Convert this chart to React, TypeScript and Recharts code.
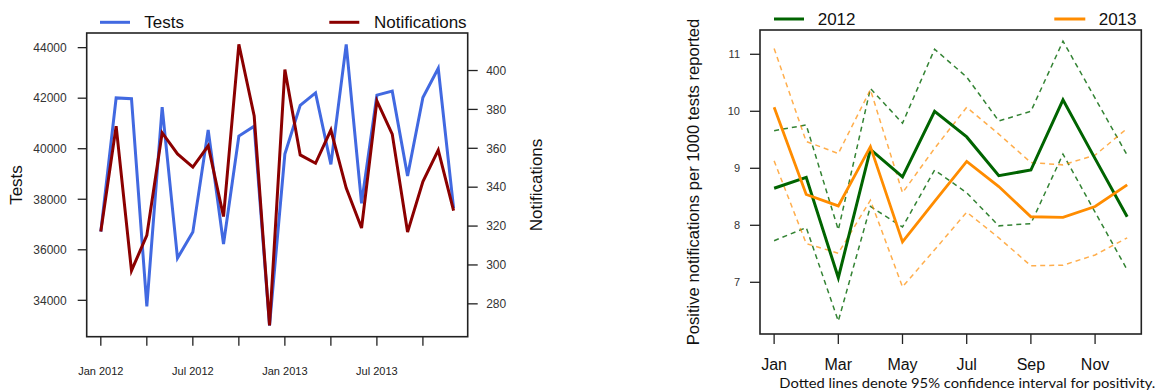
import React from 'react';
import { LineChart, Line, XAxis, YAxis } from 'recharts';

// ---------- Left chart data (monthly, Jan 2012 .. Dec 2013) ----------
const monthIndex = [0, 1, 2, 3, 4, 5, 6, 7, 8, 9, 10, 11, 12, 13, 14, 15, 16, 17, 18, 19, 20, 21, 22, 23];
const tests = [36720, 42010, 41980, 33760, 41650, 35670, 36700, 40740, 36230, 40500, 40890, 33000,
  39790, 41720, 42210, 39380, 44130, 37840, 42120, 42280, 38920, 42030, 43180, 37650];
const notifications = [317.2, 371.4, 297.1, 315.2, 368.0, 357.1, 350.3, 361.3, 324.9, 413.5, 376.6, 268.9,
  400.5, 356.6, 352.3, 369.4, 339.5, 319.0, 384.4, 367.3, 316.9, 342.9, 359.1, 328.0];
const leftTicks = [0, 3, 6, 9, 12, 15, 18, 21];
const leftTickLabels = ['Jan 2012', '', 'Jul 2012', '', 'Jan 2013', '', 'Jul 2013', ''];
const testsTicks = [34000, 36000, 38000, 40000, 42000, 44000];
const notifTicks = [280, 300, 320, 340, 360, 380, 400];

// ---------- Right chart data (monthly positivity) ----------
const monthNames = ['Jan', 'Feb', 'Mar', 'Apr', 'May', 'Jun', 'Jul', 'Aug', 'Sep', 'Oct', 'Nov', 'Dec'];
const pos2012 = [8.65, 8.84, 7.08, 9.33, 8.85, 10.0, 9.55, 8.87, 8.97, 10.2, 9.17, 8.15];
const pos2012Upper = [9.66, 9.76, 7.92, 10.4, 9.79, 11.09, 10.6, 9.83, 10.0, 11.23, 10.23, 9.23];
const pos2012Lower = [7.73, 7.96, 6.32, 8.33, 7.97, 8.97, 8.57, 7.99, 8.03, 9.25, 8.23, 7.22];
const pos2013 = [10.07, 8.54, 8.34, 9.38, 7.71, 8.42, 9.12, 8.68, 8.15, 8.14, 8.33, 8.71];
const pos2013Upper = [11.1, 9.47, 9.26, 10.38, 8.57, 9.35, 10.07, 9.6, 9.1, 9.06, 9.23, 9.7];
const pos2013Lower = [9.13, 7.68, 7.51, 8.44, 6.92, 7.57, 8.23, 7.78, 7.29, 7.3, 7.48, 7.78];
const rightTicks = [0, 2, 4, 6, 8, 10];
const posTicks = [7, 8, 9, 10, 11];

const FONT = '"Liberation Sans", Arial, Helvetica, sans-serif';
const AXIS = '#222';
const BLUE = '#4169E1';
const RED = '#8B0000';
const GREEN = '#006400';
const ORANGE = '#FF8C00';

const leftData = monthIndex.map((m, i) => ({ m, tests: tests[i], notif: notifications[i] }));
const rightData = monthNames.map((_, i) => ({
  m: i,
  g: pos2012[i], gU: pos2012Upper[i], gL: pos2012Lower[i],
  o: pos2013[i], oU: pos2013Upper[i], oL: pos2013Lower[i],
}));

export default function App() {
  return (
    <div style={{ position: 'absolute', left: 0, top: 0, width: 1157, height: 391, background: '#fff', fontFamily: FONT }}>
      <div style={{ position: 'absolute', left: 0, top: 0 }}>
        <LineChart width={580} height={391} data={leftData} margin={{ top: 33, right: 0, bottom: 0, left: 0 }}>
          <XAxis
            dataKey="m" type="number" domain={[-0.92, 23.92]} ticks={leftTicks} interval={0}
            allowDataOverflow height={54.3} axisLine={false}
            tickSize={9} tickMargin={21}
            tickLine={{ stroke: AXIS, strokeWidth: 1.3 }}
            tick={{ fontSize: 11, fill: '#222', fontFamily: FONT }}
            tickFormatter={(v: number) => leftTickLabels[leftTicks.indexOf(v)] ?? ''}
          />
          <YAxis
            yAxisId="left" orientation="left" width={86.7} domain={[32560, 44580]} ticks={testsTicks}
            interval={0} allowDataOverflow axisLine={false} tickSize={9} tickMargin={11}
            tickLine={{ stroke: AXIS, strokeWidth: 1.3 }}
            tick={{ fontSize: 12, fill: '#333', fontFamily: FONT }}
          />
          <YAxis
            yAxisId="right" orientation="right" width={112.3} domain={[263.1, 419.3]} ticks={notifTicks}
            interval={0} allowDataOverflow axisLine={false} tickSize={10} tickMargin={8.5}
            tickLine={{ stroke: AXIS, strokeWidth: 1.3 }}
            tick={{ fontSize: 12, fill: '#333', fontFamily: FONT }}
          />
          <Line yAxisId="left" dataKey="tests" type="linear" stroke={BLUE} strokeWidth={3} dot={false} isAnimationActive={false} />
          <Line yAxisId="right" dataKey="notif" type="linear" stroke={RED} strokeWidth={3} dot={false} isAnimationActive={false} />
        </LineChart>
      </div>
      <div style={{ position: 'absolute', left: 580, top: 0 }}>
        <LineChart width={577} height={391} data={rightData} margin={{ top: 30, right: 15.7, bottom: 0, left: 0 }}>
          <XAxis
            dataKey="m" type="number" domain={[-0.44, 11.44]} ticks={rightTicks} interval={0}
            allowDataOverflow height={57} axisLine={false} tickSize={10} tickMargin={15}
            tickLine={{ stroke: AXIS, strokeWidth: 1.3 }}
            tick={{ fontSize: 16, fill: '#111', fontFamily: FONT }}
            tickFormatter={(v: number) => monthNames[v]}
          />
          <YAxis
            width={180} domain={[6.093, 11.426]} ticks={posTicks} interval={0} allowDataOverflow
            axisLine={false} tickSize={10} tickMargin={10}
            tickLine={{ stroke: AXIS, strokeWidth: 1.3 }}
            tick={{ fontSize: 11, fill: '#333', fontFamily: FONT }}
          />
          <Line dataKey="gU" type="linear" stroke={GREEN} strokeOpacity={0.8} strokeWidth={1.5} strokeDasharray="5 4" dot={false} isAnimationActive={false} />
          <Line dataKey="gL" type="linear" stroke={GREEN} strokeOpacity={0.8} strokeWidth={1.5} strokeDasharray="5 4" dot={false} isAnimationActive={false} />
          <Line dataKey="oU" type="linear" stroke={ORANGE} strokeOpacity={0.7} strokeWidth={1.5} strokeDasharray="5 4" dot={false} isAnimationActive={false} />
          <Line dataKey="oL" type="linear" stroke={ORANGE} strokeOpacity={0.7} strokeWidth={1.5} strokeDasharray="5 4" dot={false} isAnimationActive={false} />
          <Line dataKey="g" type="linear" stroke={GREEN} strokeWidth={3} dot={false} isAnimationActive={false} />
          <Line dataKey="o" type="linear" stroke={ORANGE} strokeWidth={2.8} dot={false} isAnimationActive={false} />
        </LineChart>
      </div>
      <svg width={1157} height={391} style={{ position: 'absolute', left: 0, top: 0, pointerEvents: 'none' }}>
        {/* plot boxes */}
        <rect x={86.7} y={33} width={381} height={303.7} fill="none" stroke={AXIS} strokeWidth={1.6} />
        <rect x={760} y={30} width={381.3} height={304} fill="none" stroke={AXIS} strokeWidth={1.6} />
        {/* left legend */}
        <line x1={100} y1={22.3} x2={130} y2={22.3} stroke={BLUE} strokeWidth={3} />
        <text x={144.3} y={22.3} dominantBaseline="central" fontSize={17} fill="#111" fontFamily={FONT}>Tests</text>
        <line x1={329.3} y1={22.3} x2={359.3} y2={22.3} stroke={RED} strokeWidth={3} />
        <text x={374} y={22.3} dominantBaseline="central" fontSize={17} fill="#111" fontFamily={FONT}>Notifications</text>
        {/* left axis titles */}
        <text x={16.7} y={185} transform="rotate(-90 16.7 185)" textAnchor="middle" dominantBaseline="central" fontSize={17} fill="#111" fontFamily={FONT}>Tests</text>
        <text x={536.7} y={185} transform="rotate(-90 536.7 185)" textAnchor="middle" dominantBaseline="central" fontSize={17} fill="#111" fontFamily={FONT}>Notifications</text>
        {/* right legend */}
        <line x1={774} y1={19} x2={804} y2={19} stroke={GREEN} strokeWidth={3} />
        <text x={817.7} y={19.5} dominantBaseline="central" fontSize={17} fill="#111" fontFamily={FONT}>2012</text>
        <line x1={1054.3} y1={19} x2={1085.3} y2={19} stroke={ORANGE} strokeWidth={3} />
        <text x={1098.7} y={19.5} dominantBaseline="central" fontSize={17} fill="#111" fontFamily={FONT}>2013</text>
        {/* right axis title */}
        <text x={693.3} y={182} transform="rotate(-90 693.3 182)" textAnchor="middle" dominantBaseline="central" fontSize={16.6} fill="#111" fontFamily={FONT}>Positive notifications per 1000 tests reported</text>
        {/* caption */}
        <text x={779.3} y={382.7} dominantBaseline="central" fontSize={14} fill="#111" fontFamily='Lato, "Open Sans", sans-serif' textLength={376} lengthAdjust="spacingAndGlyphs">Dotted lines denote 95% confidence interval for positivity.</text>
      </svg>
    </div>
  );
}
